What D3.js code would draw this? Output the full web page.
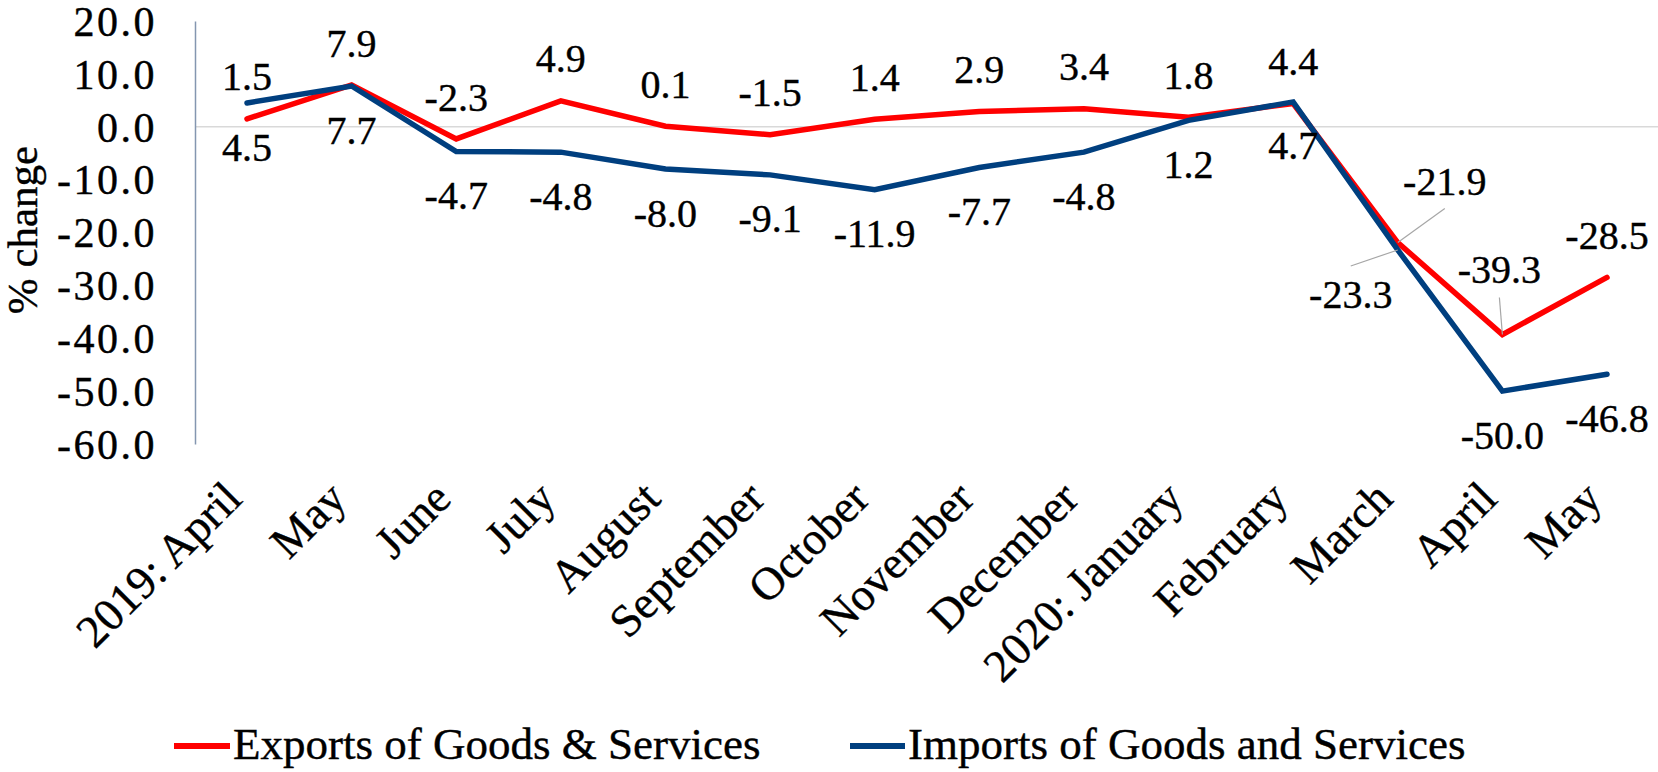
<!DOCTYPE html>
<html>
<head>
<meta charset="utf-8">
<script src="https://cdn.jsdelivr.net/npm/d3@7"></script>
<style>
  html, body { margin: 0; padding: 0; background: #ffffff; }
  svg { display: block; }
  text { font-family: "Liberation Serif", "Times New Roman", serif; fill: #000; stroke: #000; stroke-width: 0.4px; }
</style>
</head>
<body>
<svg id="chart" width="1658" height="772"></svg>
<script>
// Month labels along the x axis
const months = ["2019: April", "May", "June", "July", "August", "September", "October",
                "November", "December", "2020: January", "February", "March", "April", "May"];

// Year-on-year % change
const exportsSeries = [1.5, 7.9, -2.3, 4.9, 0.1, -1.5, 1.4, 2.9, 3.4, 1.8, 4.4, -21.9, -39.3, -28.5];
const importsSeries = [4.5, 7.7, -4.7, -4.8, -8.0, -9.1, -11.9, -7.7, -4.8, 1.2, 4.7, -23.3, -50.0, -46.8];

// Y axis ticks
const yTicks = [20, 10, 0, -10, -20, -30, -40, -50, -60];

const seriesNames = ["Exports of Goods & Services", "Imports of Goods and Services"];
const seriesColors = ["#ff0000", "#003f7f"];

// one decimal, plain hyphen for negatives
const fmt = d3.formatLocale({ decimal: ".", thousands: ",", grouping: [3], currency: ["", ""], minus: "-" })
  .format(".1f");

const svg = d3.select("#chart");

const x = d3.scalePoint()
  .domain(d3.range(months.length))
  .range([247, 1607]);

const y = d3.scaleLinear()
  .domain([-60, 20])
  .range([444, 21]);

const axisX = 195;

// zero gridline
svg.append("line")
  .attr("x1", axisX).attr("x2", 1658)
  .attr("y1", y(0)).attr("y2", y(0))
  .attr("stroke", "#d9d9d9").attr("stroke-width", 1.5);

// y axis
const yAxis = svg.append("g")
  .attr("transform", `translate(${axisX},0)`)
  .call(d3.axisLeft(y).tickValues(yTicks).tickFormat(fmt)
        .tickSize(0).tickSizeOuter(0).tickPadding(38));
yAxis.select(".domain").attr("stroke", "#8496b0").attr("stroke-width", 1.5);
yAxis.selectAll(".tick text")
  .attr("font-family", "Liberation Serif")
  .attr("font-size", 42)
  .attr("letter-spacing", 2.5)
  .attr("dy", "0.34em")
  .attr("fill", "#000");

// y axis title
svg.append("text")
  .attr("transform", "translate(37,230) rotate(-90)")
  .attr("text-anchor", "middle")
  .attr("font-size", 43)
  .text("% change");

// x axis labels, rotated
svg.append("g").selectAll("text")
  .data(months)
  .join("text")
  .attr("transform", (d, i) => `translate(${x(i) - 3},${501}) rotate(-45)`)
  .attr("text-anchor", "end")
  .attr("font-size", 46)
  .text(d => d);

// lines
const line = d3.line()
  .x((d, i) => x(i))
  .y(d => y(d));

[exportsSeries, importsSeries].forEach((s, k) => {
  svg.append("path")
    .datum(s)
    .attr("d", line)
    .attr("fill", "none")
    .attr("stroke", seriesColors[k])
    .attr("stroke-width", 5.5)
    .attr("stroke-linejoin", "miter")
    .attr("stroke-linecap", "round");
});

// data labels: exports above the line, imports below, with a few moved off the line
const labelNudge = {
  "0-11": { dx: 47, dy: -61, leader: [0, 27] },
  "0-12": { dx: -3, dy: -65, leader: [0, 28] },
  "1-11": { dx: -47, dy: 44, leader: [0, -28] }
};

const labelLayer = svg.append("g");
[exportsSeries, importsSeries].forEach((s, k) => {
  s.forEach((v, i) => {
    const px = x(i), py = y(v);
    const nudge = labelNudge[`${k}-${i}`];
    let lx = px, ly = py + (k === 0 ? -42 : 44);
    if (nudge) {
      lx = px + nudge.dx;
      ly = py + nudge.dy;
      labelLayer.append("line")
        .attr("x1", lx + nudge.leader[0]).attr("y1", ly + nudge.leader[1])
        .attr("x2", px).attr("y2", py)
        .attr("stroke", "#a6a6a6").attr("stroke-width", 1.2);
    }
    labelLayer.append("text")
      .attr("x", lx).attr("y", ly)
      .attr("dy", "0.34em")
      .attr("text-anchor", "middle")
      .attr("font-size", 40)
      .text(fmt(v));
  });
});

// legend
const legend = svg.append("g");
const legendItems = [{ x1: 174, x2: 230, tx: 233 }, { x1: 850, x2: 905, tx: 908 }];
legendItems.forEach((it, k) => {
  legend.append("line")
    .attr("x1", it.x1).attr("x2", it.x2)
    .attr("y1", 746).attr("y2", 746)
    .attr("stroke", seriesColors[k]).attr("stroke-width", 6);
  legend.append("text")
    .attr("x", it.tx).attr("y", 759)
    .attr("font-size", 45)
    .text(seriesNames[k]);
});
</script>
</body>
</html>
